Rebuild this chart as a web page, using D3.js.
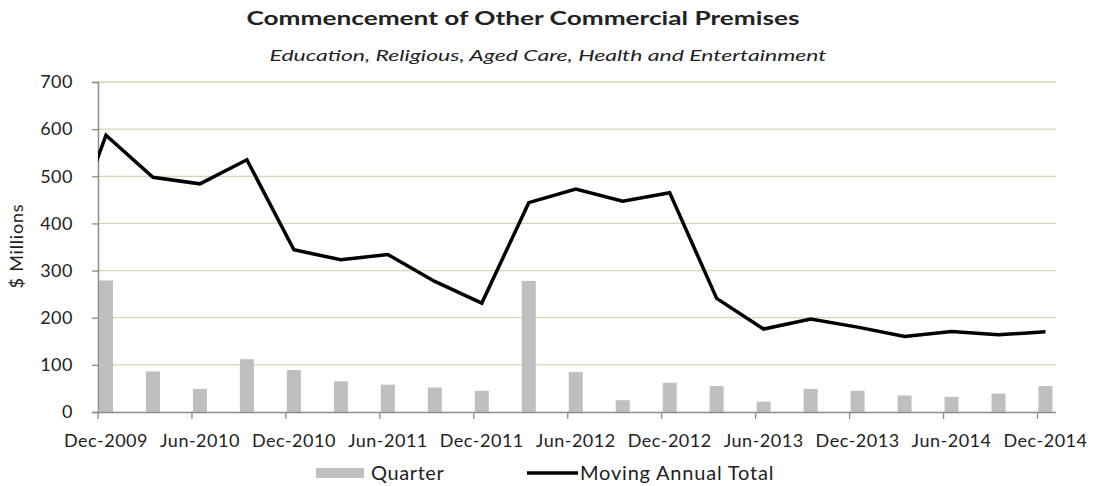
<!DOCTYPE html>
<html>
<head>
<meta charset="utf-8">
<script src="https://cdn.jsdelivr.net/npm/d3@7/dist/d3.min.js"></script>
<style>
  html, body { margin: 0; padding: 0; background: #fff; }
  svg { display: block; }
  text { font-family: Lato, "Open Sans", sans-serif; fill: #222; }
</style>
</head>
<body>
<svg id="chart" width="1098" height="486"></svg>
<script>
// Quarter labels (the leading Sep-2009 point only feeds the start of the MAT line)
const quarters = [
  "Sep-2009", "Dec-2009", "Mar-2010", "Jun-2010", "Sep-2010", "Dec-2010", "Mar-2011",
  "Jun-2011", "Sep-2011", "Dec-2011", "Mar-2012", "Jun-2012", "Sep-2012",
  "Dec-2012", "Mar-2013", "Jun-2013", "Sep-2013", "Dec-2013", "Mar-2014",
  "Jun-2014", "Sep-2014", "Dec-2014"
];

// Quarterly commencements, $ millions (Dec-2009 .. Dec-2014)
const quarterValues = [
  279, 86, 49, 112, 89, 65, 58, 52, 45, 278, 85,
  25, 62, 55, 22, 49, 45, 35, 32, 39, 55
];

// Moving annual total, $ millions (Sep-2009 .. Dec-2014)
const matValues = [
  313, 587, 498, 484, 535, 344, 323, 334, 277, 231, 444,
  473, 447, 465, 241, 176, 197, 180, 160, 171, 164, 170
];

const yTicks = [0, 100, 200, 300, 400, 500, 600, 700];
const xTickLabels = [
  "Dec-2009", "Jun-2010", "Dec-2010", "Jun-2011", "Dec-2011", "Jun-2012",
  "Dec-2012", "Jun-2013", "Dec-2013", "Jun-2014", "Dec-2014"
];

const svg = d3.select("#chart");
const plot = { left: 98, right: 1056, top: 82, bottom: 412 };

const x = d3.scalePoint()
  .domain(quarters)
  .range([59, 1045.5]);

const y = d3.scaleLinear()
  .domain([0, 700])
  .range([plot.bottom, plot.top]);

const barWidth = 14;

// Title and subtitle
svg.append("text")
  .attr("x", 523).attr("y", 25)
  .attr("text-anchor", "middle")
  .attr("font-size", 18).attr("font-weight", "bold")
  .attr("textLength", 553).attr("lengthAdjust", "spacingAndGlyphs")
  .text("Commencement of Other Commercial Premises");

svg.append("text")
  .attr("x", 548).attr("y", 61)
  .attr("text-anchor", "middle")
  .attr("font-size", 16).attr("font-style", "italic")
  .attr("fill", "#333")
  .attr("textLength", 557).attr("lengthAdjust", "spacingAndGlyphs")
  .text("Education, Religious, Aged Care, Health and Entertainment");

// Horizontal gridlines
svg.append("g")
  .selectAll("line")
  .data(yTicks.filter(d => d > 0))
  .join("line")
  .attr("x1", plot.left).attr("x2", plot.right)
  .attr("y1", d => y(d)).attr("y2", d => y(d))
  .attr("stroke", "#d6d6b4").attr("stroke-width", 1.3);

// Y axis
const yAxis = svg.append("g")
  .attr("transform", `translate(${plot.left},0)`)
  .call(d3.axisLeft(y).tickValues(yTicks).tickSize(6).tickPadding(19));
yAxis.select(".domain").attr("stroke", "#8c8c8c").attr("stroke-width", 1.5);
yAxis.selectAll(".tick line").attr("stroke", "#8c8c8c").attr("stroke-width", 1.3);
yAxis.selectAll(".tick text")
  .attr("font-family", "Lato, 'Open Sans', sans-serif")
  .attr("font-size", 18).attr("letter-spacing", 0.5).attr("fill", "#222");

svg.append("text")
  .attr("transform", "translate(23,246) rotate(-90)")
  .attr("text-anchor", "middle")
  .attr("font-size", 18).attr("letter-spacing", 0.8)
  .text("$ Millions");

// Quarterly bars
const barData = quarters.slice(1).map((q, i) => ({ q, v: quarterValues[i] }));
svg.append("g")
  .selectAll("rect")
  .data(barData)
  .join("rect")
  .attr("x", d => x(d.q) - barWidth / 2)
  .attr("y", d => y(d.v))
  .attr("width", barWidth)
  .attr("height", d => y(0) - y(d.v))
  .attr("fill", "#bfbfbf");

// X axis
const xAxis = svg.append("g")
  .attr("transform", `translate(0,${plot.bottom})`);
xAxis.append("line")
  .attr("x1", plot.left).attr("x2", plot.right)
  .attr("y1", 0.5).attr("y2", 0.5)
  .attr("stroke", "#8c8c8c").attr("stroke-width", 1.5);
const xt = xAxis.selectAll("g.tick")
  .data(xTickLabels)
  .join("g")
  .attr("class", "tick")
  .attr("transform", d => `translate(${x(d)},0)`);
xt.append("line")
  .attr("x1", -barWidth / 2 - 1).attr("x2", -barWidth / 2 - 1)
  .attr("y1", 0).attr("y2", 7)
  .attr("stroke", "#8c8c8c").attr("stroke-width", 1.3);
xt.append("text")
  .attr("y", 35)
  .attr("text-anchor", "middle")
  .attr("font-size", 18).attr("letter-spacing", 0.5)
  .text(d => d);

// Moving annual total line, clipped to the plot area
svg.append("clipPath").attr("id", "plot-clip")
  .append("rect")
  .attr("x", plot.left).attr("y", 0)
  .attr("width", plot.right - plot.left).attr("height", plot.bottom);

const line = d3.line()
  .x((d, i) => x(quarters[i]))
  .y(d => y(d));

svg.append("path")
  .datum(matValues)
  .attr("clip-path", "url(#plot-clip)")
  .attr("d", line)
  .attr("fill", "none")
  .attr("stroke", "#000")
  .attr("stroke-width", 3.5)
  .attr("stroke-linejoin", "miter");

// Legend
const legend = svg.append("g");
legend.append("rect")
  .attr("x", 316).attr("y", 468)
  .attr("width", 48).attr("height", 10)
  .attr("fill", "#bfbfbf");
legend.append("text")
  .attr("x", 371).attr("y", 480)
  .attr("font-size", 20).attr("letter-spacing", 0.6)
  .text("Quarter");
legend.append("line")
  .attr("x1", 527).attr("x2", 578)
  .attr("y1", 473).attr("y2", 473)
  .attr("stroke", "#000").attr("stroke-width", 3.5);
legend.append("text")
  .attr("x", 580).attr("y", 480)
  .attr("font-size", 20).attr("letter-spacing", 0.8)
  .text("Moving Annual Total");
</script>
</body>
</html>
